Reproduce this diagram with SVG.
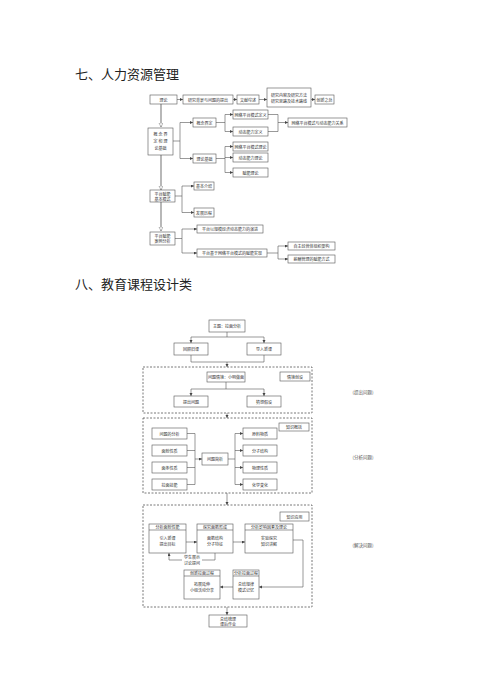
<svg xmlns="http://www.w3.org/2000/svg" width="500" height="694" viewBox="0 0 500 694">
<style>
.title{font-family:"Noto Sans CJK SC","Noto Sans",sans-serif;font-size:13px;fill:#222}
.b{fill:#fff;stroke:#555;stroke-width:0.6}
.t{font-family:"Noto Sans CJK SC","Noto Sans",sans-serif;font-size:4px;fill:#333;text-anchor:middle;dominant-baseline:central}
.lab{font-family:"Noto Sans CJK SC","Noto Sans",sans-serif;font-size:4.5px;fill:#555;text-anchor:middle;dominant-baseline:central}
.c{fill:none;stroke:#555;stroke-width:0.6}
.ca{fill:none;stroke:#555;stroke-width:0.6;marker-end:url(#ah)}
.v{fill:none;stroke:#888;stroke-width:1.2;marker-end:url(#ah2)}
.d{fill:none;stroke:#555;stroke-width:0.8;stroke-dasharray:2,1.5}
</style>
<defs>
<marker id="ah" markerUnits="userSpaceOnUse" markerWidth="4" markerHeight="4" refX="3" refY="1.5" orient="auto"><path d="M0,0 L3,1.5 L0,3 z" fill="#444"/></marker>
<marker id="ah2" markerUnits="userSpaceOnUse" markerWidth="5" markerHeight="5" refX="4" refY="2" orient="auto"><path d="M0,0 L4,2 L0,4 z" fill="#fff" stroke="#777" stroke-width="0.5"/></marker>
</defs>
<rect width="500" height="694" fill="#fff"/>

<text class="title" x="75" y="79">七、人力资源管理</text>
<text class="title" x="75" y="289">八、教育课程设计类</text>

<g id="connectors1">
<path class="ca" d="M177,99.5 H183"/>
<path class="ca" d="M233,99.5 H237"/>
<path class="ca" d="M259,99.5 H267"/>
<path class="ca" d="M311,99.5 H315"/>
<path class="v" d="M161,104 V127"/>
<path class="v" d="M161,155 V190"/>
<path class="v" d="M161,202 V231"/>
<path class="ca" d="M173,141 H180 V122.5 H193"/>
<path class="ca" d="M180,141 V158.5 H193"/>
<path class="ca" d="M216,122.5 H225 V114.5 H233"/>
<path class="ca" d="M225,122.5 V131.5 H233"/>
<path class="c" d="M268,114.5 H278 V131.5 H268"/>
<path class="ca" d="M278,122.5 H288"/>
<path class="ca" d="M216,158.5 H225 V146.5 H233"/>
<path class="ca" d="M225,157.5 H233"/>
<path class="ca" d="M225,158.5 V172.5 H233"/>
<path class="ca" d="M175,196 H182 V186 H194"/>
<path class="ca" d="M182,196 V212.5 H194"/>
<path class="ca" d="M175,238.5 H182 V229 H197"/>
<path class="ca" d="M182,238.5 V253 H197"/>
<path class="ca" d="M267,253 H278 V246 H288"/>
<path class="ca" d="M278,253 V259 H288"/>
</g>

<g id="n1"><rect class="b" x="150" y="95" width="27" height="9"/><text class="t" x="163.5" y="99.5">理论</text></g>
<g id="n2"><rect class="b" x="183" y="95" width="50" height="9"/><text class="t" x="208" y="99.5">研究背景与问题的提出</text></g>
<g id="n3"><rect class="b" x="237" y="95" width="22" height="9"/><text class="t" x="248" y="99.5">文献综述</text></g>
<g id="n4"><rect class="b" x="267" y="88" width="44" height="19"/><text class="t" x="289" y="94.5">研究内容及研究方法</text><text class="t" x="289" y="100.5">研究思路及技术路线</text></g>
<g id="n5"><rect class="b" x="315" y="95" width="19" height="9"/><text class="t" x="324.5" y="99.5">创新之处</text></g>
<g id="n6"><rect class="b" x="148" y="128" width="25" height="27"/><text class="t" x="160.5" y="134">概 念 界</text><text class="t" x="160.5" y="141">定 和 理</text><text class="t" x="160.5" y="148">论基础</text></g>
<g id="n7"><rect class="b" x="193" y="118" width="23" height="9"/><text class="t" x="204.5" y="122.5">概念界定</text></g>
<g id="n8"><rect class="b" x="193" y="154" width="23" height="9"/><text class="t" x="204.5" y="158.5">理论基础</text></g>
<g id="n9"><rect class="b" x="233" y="110" width="35" height="9"/><text class="t" x="250.5" y="114.5">网络平台模式定义</text></g>
<g id="n10"><rect class="b" x="233" y="127" width="35" height="9"/><text class="t" x="250.5" y="131.5">动态能力定义</text></g>
<g id="n11"><rect class="b" x="288" y="118" width="59" height="9"/><text class="t" x="317.5" y="122.5">网络平台模式与动态能力关系</text></g>
<g id="n12"><rect class="b" x="233" y="142" width="35" height="9"/><text class="t" x="250.5" y="146.5">网络平台模式理论</text></g>
<g id="n13"><rect class="b" x="233" y="153" width="35" height="9"/><text class="t" x="250.5" y="157.5">动态能力理论</text></g>
<g id="n14"><rect class="b" x="233" y="168" width="35" height="9"/><text class="t" x="250.5" y="172.5">赋能理论</text></g>
<g id="n15"><rect class="b" x="150" y="190" width="25" height="12"/><text class="t" x="162.5" y="193.5">平台赋能</text><text class="t" x="162.5" y="198.5">基本模式</text></g>
<g id="n16"><rect class="b" x="194" y="182" width="20" height="8"/><text class="t" x="204" y="186">基本介绍</text></g>
<g id="n17"><rect class="b" x="194" y="208" width="20" height="9"/><text class="t" x="204" y="212.5">发展历程</text></g>
<g id="n18"><rect class="b" x="150" y="232" width="25" height="13"/><text class="t" x="162.5" y="236">平台赋能</text><text class="t" x="162.5" y="241">案例分析</text></g>
<g id="n19"><rect class="b" x="197" y="225" width="66" height="8"/><text class="t" x="230" y="229">平台以规模经济动态能力的演进</text></g>
<g id="n20"><rect class="b" x="197" y="249" width="70" height="8"/><text class="t" x="232" y="253">平台基于网络平台模式的赋能实现</text></g>
<g id="n21"><rect class="b" x="288" y="242" width="47" height="8"/><text class="t" x="311.5" y="246">自主经营体组织架构</text></g>
<g id="n22"><rect class="b" x="288" y="255" width="47" height="8"/><text class="t" x="311.5" y="259">薪酬管理的赋能方式</text></g>

<g id="connectors2">
<path class="ca" d="M227,332 V337 H191 V343"/>
<path class="ca" d="M227,337 H264 V343"/>
<path class="c" d="M191,355 V362 H264 V355"/>
<path class="ca" d="M227,362 V367"/>
<path class="ca" d="M226,382 V389 H191 V396"/>
<path class="ca" d="M226,389 H264 V396"/>
<path class="ca" d="M227,413 V418"/>
<path class="c" d="M187,433.5 H195 V484.5 H187 M187,450.5 H195 M187,467.5 H195"/>
<path class="ca" d="M195,459 H202"/>
<path class="c" d="M228,459 H235 M235,433.5 V484.5"/>
<path class="ca" d="M235,433.5 H243"/>
<path class="ca" d="M235,450.5 H243"/>
<path class="ca" d="M235,467.5 H243"/>
<path class="ca" d="M235,484.5 H243"/>
<path class="ca" d="M227,493 V505"/>
<path class="ca" d="M186,542 H197"/>
<path class="ca" d="M233,542 H245"/>
<path class="ca" d="M215,553 V560 H169 V553"/>
<path class="ca" d="M293,540 H303 V587 H259"/>
<path class="ca" d="M233,587 H220"/>
<path class="ca" d="M227,607 V615"/>
</g>

<g id="zone1"><rect class="d" x="143" y="367" width="169" height="46"/></g>
<g id="zone2"><rect class="d" x="143" y="418" width="169" height="75"/></g>
<g id="zone3"><rect class="d" x="143" y="505" width="169" height="102"/></g>

<g id="m1"><rect class="b" x="209" y="320" width="36" height="12"/><text class="t" x="227" y="326">主题：拉面分析</text></g>
<g id="m2"><rect class="b" x="174" y="343" width="34" height="12"/><text class="t" x="191" y="349">回顾旧课</text></g>
<g id="m3"><rect class="b" x="247" y="343" width="34" height="12"/><text class="t" x="264" y="349">导入新课</text></g>
<g id="m4"><rect class="b" x="207" y="372" width="38" height="10"/><text class="t" x="226" y="377">问题情境：小明做面</text></g>
<g id="m5"><rect class="b" x="280" y="372" width="30" height="9"/><text class="t" x="295" y="376.5">情境创设</text></g>
<g id="m6"><rect class="b" x="174" y="396" width="34" height="11"/><text class="t" x="191" y="401.5">提出问题</text></g>
<g id="m7"><rect class="b" x="247" y="396" width="34" height="11"/><text class="t" x="264" y="401.5">猜想假设</text></g>
<g id="m8"><rect class="b" x="279" y="423" width="30" height="8"/><text class="t" x="294" y="427">知识概括</text></g>
<g id="m9"><rect class="b" x="152" y="428" width="35" height="11"/><text class="t" x="169.5" y="433.5">问题的分析</text></g>
<g id="m10"><rect class="b" x="152" y="445" width="35" height="11"/><text class="t" x="169.5" y="450.5">面粉性质</text></g>
<g id="m11"><rect class="b" x="152" y="462" width="35" height="11"/><text class="t" x="169.5" y="467.5">面条性质</text></g>
<g id="m12"><rect class="b" x="152" y="479" width="35" height="11"/><text class="t" x="169.5" y="484.5">拉面技能</text></g>
<g id="m13"><rect class="b" x="202" y="453" width="26" height="12"/><text class="t" x="215" y="459">问题简析</text></g>
<g id="m14"><rect class="b" x="243" y="428" width="34" height="11"/><text class="t" x="260" y="433.5">原料物质</text></g>
<g id="m15"><rect class="b" x="243" y="445" width="34" height="11"/><text class="t" x="260" y="450.5">分子结构</text></g>
<g id="m16"><rect class="b" x="243" y="462" width="34" height="11"/><text class="t" x="260" y="467.5">物理性质</text></g>
<g id="m17"><rect class="b" x="243" y="479" width="34" height="11"/><text class="t" x="260" y="484.5">化学变化</text></g>
<g id="m18"><rect class="b" x="280" y="512" width="29" height="9"/><text class="t" x="294.5" y="516.5">知识应用</text></g>
<g id="m19"><rect class="b" x="149" y="524" width="37" height="29"/><line class="c" x1="149" y1="530" x2="186" y2="530"/><text class="t" x="167.5" y="527">分析面粉性能</text><text class="t" x="167.5" y="538">引入新课</text><text class="t" x="167.5" y="544">提出目标</text></g>
<g id="m20"><rect class="b" x="197" y="524" width="36" height="29"/><line class="c" x1="197" y1="530" x2="233" y2="530"/><text class="t" x="215" y="527">探究面筋形成</text><text class="t" x="215" y="538">面筋结构</text><text class="t" x="215" y="544">分子特征</text></g>
<g id="m21"><rect class="b" x="245" y="524" width="48" height="29"/><line class="c" x1="245" y1="530" x2="293" y2="530"/><text class="t" x="269" y="527">分析影响因素及理论</text><text class="t" x="269" y="538">实验探究</text><text class="t" x="269" y="544">知识讲解</text></g>
<g id="m22"><rect x="182" y="554" width="20" height="11" fill="#fff"/><text class="t" x="192" y="557">学生展示</text><text class="t" x="192" y="562.5">讨论提问</text></g>
<g id="m23"><rect class="b" x="233" y="570" width="26" height="29"/><line class="c" x1="233" y1="576" x2="259" y2="576"/><text class="t" x="246" y="573">分析拉面过程</text><text class="t" x="246" y="584">总结规律</text><text class="t" x="246" y="590">模式记忆</text></g>
<g id="m24"><rect class="b" x="184" y="570" width="36" height="29"/><line class="c" x1="184" y1="576" x2="220" y2="576"/><text class="t" x="202" y="573">创新拉面过程</text><text class="t" x="202" y="584">拓展延伸</text><text class="t" x="202" y="590">小组活动分享</text></g>
<g id="m25"><rect class="b" x="209" y="615" width="38" height="12"/><text class="t" x="228" y="618.5">总结梳理</text><text class="t" x="228" y="623.5">课后作业</text></g>
<g id="labels"><text class="lab" x="363" y="392">(提出问题)</text><text class="lab" x="363" y="457">(分析问题)</text><text class="lab" x="363" y="545">(解决问题)</text></g>
</svg>
